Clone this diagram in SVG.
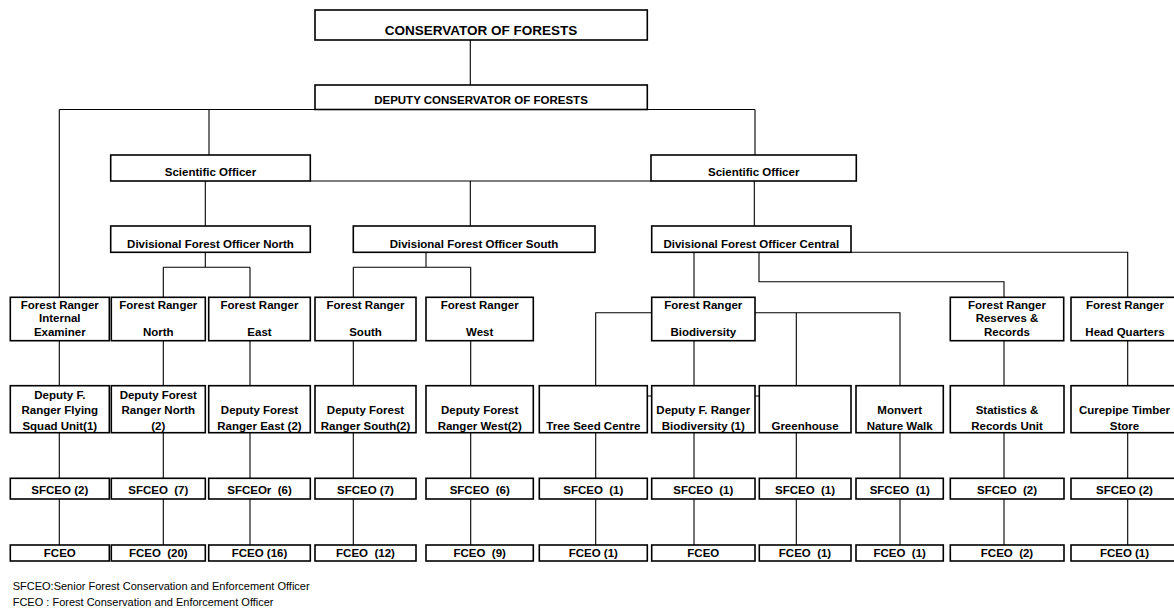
<svg xmlns="http://www.w3.org/2000/svg" width="1174" height="611" viewBox="0 0 1174 611">
  <style>
    .box { fill: #ffffff; stroke: #000000; stroke-width: 1.6; }
    .wire { fill: none; stroke: #000000; stroke-width: 1.1; }
    .lbl { font-family: "Liberation Sans", Arial, sans-serif; font-weight: bold; font-size: 11.5px; fill: #000000; text-anchor: middle; white-space: pre; }
    .big { font-size: 13.5px; }
    .note { font-family: "Liberation Sans", Arial, sans-serif; font-size: 11px; fill: #000000; }
  </style>
  <rect width="1174" height="611" fill="#ffffff"/>

  <!-- reporting lines -->
  <g id="connectors" class="wire">
    <path d="M470.3 40 V85"/>
    <path d="M59.3 109.5 H755 M59.3 109.5 V297.3 M209 109.5 V155 M755 109.5 V155"/>
    <path d="M310 181 H651 M205.3 181 V226 M470.3 181 V226 M754.3 181 V226"/>
    <path d="M205.3 252.3 V267.3 M163.3 267.3 H250 M163.3 267.3 V297.3 M250 267.3 V297.3"/>
    <path d="M426 252.3 V267.3 M353.3 267.3 H470.7 M353.3 267.3 V297.3 M470.7 267.3 V297.3"/>
    <path d="M694 252.3 V297.3 M759 252.3 V281.7 H1004 V297.3 M851 252.3 H1127.7 V297.3"/>
    <path d="M651.7 312.7 H595.7 V385.7 M755 312.7 H900 V385.7 M796.3 312.7 V385.7"/>
    <path d="M647 396 H760"/>
    <path d="M59.3 340.7 V561 M163.3 340.7 V561 M250 340.7 V561 M353.3 340.7 V561 M470.7 340.7 V561 M694 340.7 V561 M1004 340.7 V561 M1127.7 340.7 V561"/>
    <path d="M595.7 385.7 V561 M796.3 385.7 V561 M900 385.7 V561"/>
  </g>

  <g id="conservator">
    <rect class="box" x="315" y="10" width="332.3" height="30"/>
    <text class="lbl big" x="481" y="35">CONSERVATOR OF FORESTS</text>
  </g>
  <g id="deputy-conservator">
    <rect class="box" x="315" y="85" width="332.3" height="24.5"/>
    <text class="lbl" x="481" y="104">DEPUTY CONSERVATOR OF FORESTS</text>
  </g>

  <g id="scientific-officer-1">
    <rect class="box" x="110.7" y="155" width="199.6" height="26"/>
    <text class="lbl" x="210.5" y="176">Scientific Officer</text>
  </g>
  <g id="scientific-officer-2">
    <rect class="box" x="651" y="155" width="205.3" height="26"/>
    <text class="lbl" x="753.7" y="176">Scientific Officer</text>
  </g>

  <g id="dfo-north">
    <rect class="box" x="110.7" y="226" width="199.6" height="26.3"/>
    <text class="lbl" x="210.5" y="247.5">Divisional Forest Officer North</text>
  </g>
  <g id="dfo-south">
    <rect class="box" x="353.3" y="226" width="241.7" height="26.3"/>
    <text class="lbl" x="474" y="247.5">Divisional Forest Officer South</text>
  </g>
  <g id="dfo-central">
    <rect class="box" x="651.7" y="226" width="199.3" height="26.3"/>
    <text class="lbl" x="751.3" y="247.5">Divisional Forest Officer Central</text>
  </g>

  <!-- forest rangers -->
  <g id="fr-internal-examiner">
    <rect class="box" x="10.3" y="297.3" width="99" height="43.4"/>
    <text class="lbl" x="59.8" y="308.5">Forest Ranger</text>
    <text class="lbl" x="59.8" y="322">Internal</text>
    <text class="lbl" x="59.8" y="336">Examiner</text>
  </g>
  <g id="fr-north">
    <rect class="box" x="111.3" y="297.3" width="94" height="43.4"/>
    <text class="lbl" x="158.3" y="308.5">Forest Ranger</text>
    <text class="lbl" x="158.3" y="336">North</text>
  </g>
  <g id="fr-east">
    <rect class="box" x="208.7" y="297.3" width="101.6" height="43.4"/>
    <text class="lbl" x="259.5" y="308.5">Forest Ranger</text>
    <text class="lbl" x="259.5" y="336">East</text>
  </g>
  <g id="fr-south">
    <rect class="box" x="315" y="297.3" width="101" height="43.4"/>
    <text class="lbl" x="365.5" y="308.5">Forest Ranger</text>
    <text class="lbl" x="365.5" y="336">South</text>
  </g>
  <g id="fr-west">
    <rect class="box" x="426" y="297.3" width="107.3" height="43.4"/>
    <text class="lbl" x="479.7" y="308.5">Forest Ranger</text>
    <text class="lbl" x="479.7" y="336">West</text>
  </g>
  <g id="fr-biodiversity">
    <rect class="box" x="651.7" y="297.3" width="103.3" height="43.4"/>
    <text class="lbl" x="703.3" y="308.5">Forest Ranger</text>
    <text class="lbl" x="703.3" y="336">Biodiversity</text>
  </g>
  <g id="fr-reserves-records">
    <rect class="box" x="950.3" y="297.3" width="113.4" height="43.4"/>
    <text class="lbl" x="1007" y="308.5">Forest Ranger</text>
    <text class="lbl" x="1007" y="322">Reserves &amp;</text>
    <text class="lbl" x="1007" y="336">Records</text>
  </g>
  <g id="fr-head-quarters">
    <rect class="box" x="1071" y="297.3" width="107" height="43.4"/>
    <text class="lbl" x="1125" y="308.5">Forest Ranger</text>
    <text class="lbl" x="1125" y="336">Head Quarters</text>
  </g>

  <!-- units and deputy rangers -->
  <g id="dfr-flying-squad">
    <rect class="box" x="10.3" y="385.7" width="99" height="47"/>
    <text class="lbl" x="59.8" y="398.5">Deputy F.</text>
    <text class="lbl" x="59.8" y="414">Ranger Flying</text>
    <text class="lbl" x="59.8" y="429.5">Squad Unit(1)</text>
  </g>
  <g id="dfr-north">
    <rect class="box" x="111.3" y="385.7" width="94" height="47"/>
    <text class="lbl" x="158.3" y="398.5">Deputy Forest</text>
    <text class="lbl" x="158.3" y="414">Ranger North</text>
    <text class="lbl" x="158.3" y="429.5">(2)</text>
  </g>
  <g id="dfr-east">
    <rect class="box" x="208.7" y="385.7" width="101.6" height="47"/>
    <text class="lbl" x="259.5" y="414">Deputy Forest</text>
    <text class="lbl" x="259.5" y="429.5">Ranger East (2)</text>
  </g>
  <g id="dfr-south">
    <rect class="box" x="315" y="385.7" width="101" height="47"/>
    <text class="lbl" x="365.5" y="414">Deputy Forest</text>
    <text class="lbl" x="365.5" y="429.5">Ranger South(2)</text>
  </g>
  <g id="dfr-west">
    <rect class="box" x="426" y="385.7" width="107.3" height="47"/>
    <text class="lbl" x="479.7" y="414">Deputy Forest</text>
    <text class="lbl" x="479.7" y="429.5">Ranger West(2)</text>
  </g>
  <g id="tree-seed-centre">
    <rect class="box" x="539.3" y="385.7" width="108" height="47"/>
    <text class="lbl" x="593.3" y="429.5">Tree Seed Centre</text>
  </g>
  <g id="dfr-biodiversity">
    <rect class="box" x="651.7" y="385.7" width="103.3" height="47"/>
    <text class="lbl" x="703.3" y="414">Deputy F. Ranger</text>
    <text class="lbl" x="703.3" y="429.5">Biodiversity (1)</text>
  </g>
  <g id="greenhouse">
    <rect class="box" x="759.3" y="385.7" width="91.7" height="47"/>
    <text class="lbl" x="805" y="429.5">Greenhouse</text>
  </g>
  <g id="monvert">
    <rect class="box" x="856" y="385.7" width="87.3" height="47"/>
    <text class="lbl" x="899.7" y="414">Monvert</text>
    <text class="lbl" x="899.7" y="429.5">Nature Walk</text>
  </g>
  <g id="statistics-records">
    <rect class="box" x="950.3" y="385.7" width="113.7" height="47"/>
    <text class="lbl" x="1007" y="414">Statistics &amp;</text>
    <text class="lbl" x="1007" y="429.5">Records Unit</text>
  </g>
  <g id="curepipe-timber">
    <rect class="box" x="1071" y="385.7" width="107" height="47"/>
    <text class="lbl" x="1124.5" y="414">Curepipe Timber</text>
    <text class="lbl" x="1124.5" y="429.5">Store</text>
  </g>

  <!-- senior officers -->
  <g id="sfceo-1"><rect class="box" x="10.3" y="478.3" width="99" height="20.7"/><text class="lbl" x="59.8" y="494">SFCEO (2)</text></g>
  <g id="sfceo-2"><rect class="box" x="111.3" y="478.3" width="94" height="20.7"/><text class="lbl" x="158.3" y="494">SFCEO  (7)</text></g>
  <g id="sfceo-3"><rect class="box" x="208.7" y="478.3" width="101.6" height="20.7"/><text class="lbl" x="259.5" y="494">SFCEOr  (6)</text></g>
  <g id="sfceo-4"><rect class="box" x="315" y="478.3" width="101" height="20.7"/><text class="lbl" x="365.5" y="494">SFCEO (7)</text></g>
  <g id="sfceo-5"><rect class="box" x="426" y="478.3" width="107.3" height="20.7"/><text class="lbl" x="479.7" y="494">SFCEO  (6)</text></g>
  <g id="sfceo-6"><rect class="box" x="539.3" y="478.3" width="108" height="20.7"/><text class="lbl" x="593.3" y="494">SFCEO  (1)</text></g>
  <g id="sfceo-7"><rect class="box" x="651.7" y="478.3" width="103.3" height="20.7"/><text class="lbl" x="703.3" y="494">SFCEO  (1)</text></g>
  <g id="sfceo-8"><rect class="box" x="759.3" y="478.3" width="91.7" height="20.7"/><text class="lbl" x="805" y="494">SFCEO  (1)</text></g>
  <g id="sfceo-9"><rect class="box" x="856" y="478.3" width="87.3" height="20.7"/><text class="lbl" x="899.7" y="494">SFCEO  (1)</text></g>
  <g id="sfceo-10"><rect class="box" x="950.3" y="478.3" width="113.7" height="20.7"/><text class="lbl" x="1007" y="494">SFCEO  (2)</text></g>
  <g id="sfceo-11"><rect class="box" x="1071" y="478.3" width="107" height="20.7"/><text class="lbl" x="1124.5" y="494">SFCEO (2)</text></g>

  <!-- conservation and enforcement officers -->
  <g id="fceo-1"><rect class="box" x="10.3" y="545" width="99" height="16"/><text class="lbl" x="59.8" y="557">FCEO</text></g>
  <g id="fceo-2"><rect class="box" x="111.3" y="545" width="94" height="16"/><text class="lbl" x="158.3" y="557">FCEO  (20)</text></g>
  <g id="fceo-3"><rect class="box" x="208.7" y="545" width="101.6" height="16"/><text class="lbl" x="259.5" y="557">FCEO (16)</text></g>
  <g id="fceo-4"><rect class="box" x="315" y="545" width="101" height="16"/><text class="lbl" x="365.5" y="557">FCEO  (12)</text></g>
  <g id="fceo-5"><rect class="box" x="426" y="545" width="107.3" height="16"/><text class="lbl" x="479.7" y="557">FCEO  (9)</text></g>
  <g id="fceo-6"><rect class="box" x="539.3" y="545" width="108" height="16"/><text class="lbl" x="593.3" y="557">FCEO (1)</text></g>
  <g id="fceo-7"><rect class="box" x="651.7" y="545" width="103.3" height="16"/><text class="lbl" x="703.3" y="557">FCEO</text></g>
  <g id="fceo-8"><rect class="box" x="759.3" y="545" width="91.7" height="16"/><text class="lbl" x="805" y="557">FCEO  (1)</text></g>
  <g id="fceo-9"><rect class="box" x="856" y="545" width="87.3" height="16"/><text class="lbl" x="899.7" y="557">FCEO  (1)</text></g>
  <g id="fceo-10"><rect class="box" x="950.3" y="545" width="113.7" height="16"/><text class="lbl" x="1007" y="557">FCEO  (2)</text></g>
  <g id="fceo-11"><rect class="box" x="1071" y="545" width="107" height="16"/><text class="lbl" x="1124.5" y="557">FCEO (1)</text></g>

  <!-- abbreviations -->
  <g id="legend">
    <text class="note" x="12.7" y="589.5">SFCEO:Senior Forest Conservation and Enforcement Officer</text>
    <text class="note" x="12.7" y="605.5">FCEO : Forest Conservation and Enforcement Officer</text>
  </g>
</svg>
